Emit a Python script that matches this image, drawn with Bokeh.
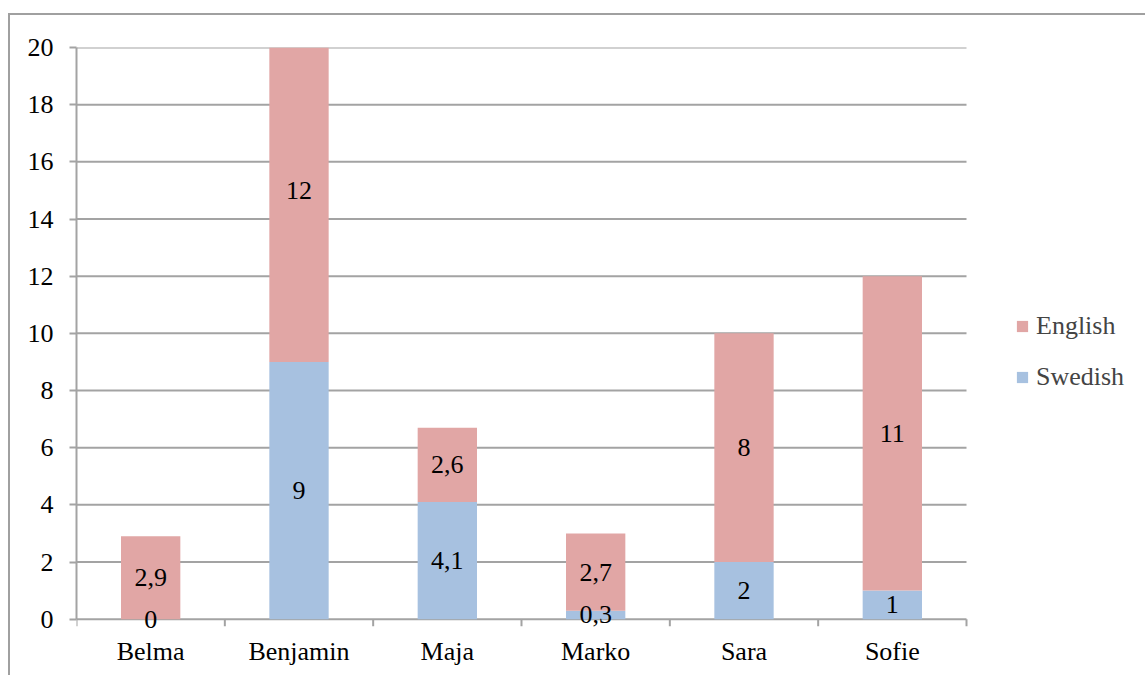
from bokeh.plotting import figure
from bokeh.models import ColumnDataSource, FixedTicker, Range1d, Legend, LabelSet
from bokeh.core.properties import value
from bokeh.embed import file_html
from bokeh.resources import INLINE
import numpy as np

# Hours per pupil and language
names = ["Belma", "Benjamin", "Maja", "Marko", "Sara", "Sofie"]
swedish = [0, 9, 4.1, 0.3, 2, 1]
english = [2.9, 12, 2.6, 2.7, 8, 11]
y_ticks = [0, 2, 4, 6, 8, 10, 12, 14, 16, 18, 20]

PINK = "#E1A6A5"
BLUE = "#A7C1E0"
GRID = "#A3A3A3"
FONT = "Liberation Serif"
FSIZE = "26px"

# Canvas geometry: the frame runs to the right edge so the legend can sit
# inside it; the category axis covers only the first 890 px of the frame.
# The frame also reaches a little below zero so labels at 0 stay whole.
W, H = 1137, 662
LEFT, TOP, BOTTOM = 66, 32, 44
AXIS_PX = 890
Y_MIN, Y_MAX = -0.5, 20
n = len(names)
x_end = n * (W - LEFT) / AXIS_PX

xpos = np.arange(n) + 0.5
src = ColumnDataSource(dict(x=xpos, Swedish=swedish, English=english))

p = figure(
    width=W, height=H,
    x_range=Range1d(0, x_end), y_range=Range1d(Y_MIN, Y_MAX),
    output_backend="svg", toolbar_location=None,
    min_border_left=LEFT, min_border_right=0,
    min_border_top=TOP, min_border_bottom=BOTTOM,
)
p.margin = (13, 0, 0, 8)
p.styles = {"border-left": "2px solid #A0A0A0", "border-top": "2px solid #A0A0A0"}
p.outline_line_color = None
p.background_fill_color = "white"
p.border_fill_color = "white"

# Horizontal gridlines spanning the category axis; the one at 0 is the base line
p.segment(x0=0, x1=n, y0=y_ticks, y1=y_ticks, line_color=GRID, line_width=2)
# Short ticks hanging below the base line at the category boundaries
p.ray(x=list(range(n + 1)), y=0, length=7, length_units="screen",
      angle=-np.pi / 2, line_color=GRID, line_width=2)

renderers = p.vbar_stack(["Swedish", "English"], x="x", width=0.4, source=src,
                         color=[BLUE, PINK], line_color=None)

# Value labels centred in each segment, written with a decimal comma
def fmt(v):
    return ("%g" % v).replace(".", ",")

sw = np.array(swedish, dtype=float)
en = np.array(english, dtype=float)
lab = ColumnDataSource(dict(
    x=np.concatenate([xpos, xpos]),
    y=np.concatenate([sw / 2, sw + en / 2]),
    t=[fmt(v) for v in swedish] + [fmt(v) for v in english],
))
p.add_layout(LabelSet(x="x", y="y", text="t", source=lab, text_align="center",
                      text_baseline="middle", text_font=value(FONT),
                      text_font_size=value(FSIZE), text_color="black"))

# Category names below the frame
p.xaxis.ticker = FixedTicker(ticks=list(xpos))
p.xaxis.major_label_overrides = {float(x): nm for x, nm in zip(xpos, names)}
p.xaxis.axis_line_color = None
p.xaxis.major_tick_line_color = None
p.xaxis.minor_tick_line_color = None
p.xaxis.major_tick_out = 0
p.xaxis.major_tick_in = 0
p.xaxis.major_label_standoff = 3

p.yaxis.bounds = (0, Y_MAX)
p.yaxis.ticker = FixedTicker(ticks=y_ticks)
p.yaxis.axis_line_color = GRID
p.yaxis.axis_line_width = 2
p.yaxis.major_tick_out = 7
p.yaxis.major_tick_in = 0
p.yaxis.minor_tick_line_color = None
p.yaxis.major_tick_line_color = GRID
p.yaxis.major_tick_line_width = 2
p.yaxis.major_label_standoff = 16

for ax in (p.xaxis, p.yaxis):
    ax.major_label_text_font = FONT
    ax.major_label_text_font_size = FSIZE
    ax.major_label_text_color = "black"

p.xgrid.grid_line_color = None
p.ygrid.grid_line_color = None

legend = Legend(items=[("English", [renderers[1]]), ("Swedish", [renderers[0]])],
                location=(AXIS_PX + 49, 241))
legend.glyph_width = 14
legend.glyph_height = 14
legend.label_height = 14
legend.spacing = 21
legend.padding = 0
legend.margin = 0
legend.label_standoff = 7
legend.label_text_font = FONT
legend.label_text_font_size = FSIZE
legend.border_line_color = None
legend.background_fill_alpha = 0
p.add_layout(legend, "center")

open("out.html", "w").write(file_html(p, INLINE))
